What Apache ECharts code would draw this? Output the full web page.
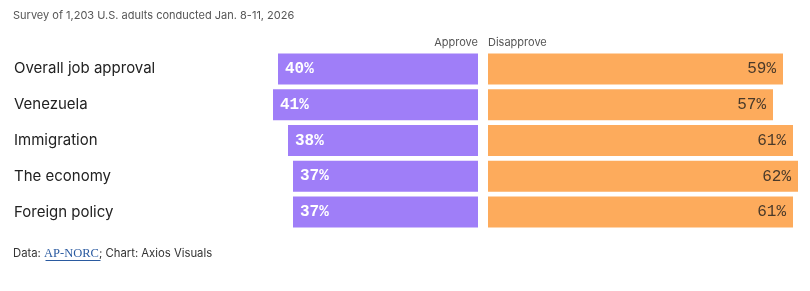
<!DOCTYPE html>
<html><head><meta charset="utf-8">
<script src="https://cdn.jsdelivr.net/npm/echarts@6/dist/echarts.min.js"></script>
<style>html,body{margin:0;padding:0;background:#fff}#c{width:810px;height:291px}</style>
</head><body><div id="c"></div>
<script>
const categories = ["Overall job approval", "Venezuela", "Immigration", "The economy", "Foreign policy"];
const approve = [40, 41, 38, 37, 37];
const disapprove = [59, 57, 61, 62, 61];
const subtitle = "Survey of 1,203 U.S. adults conducted Jan. 8-11, 2026";
const seriesNames = ["Approve", "Disapprove"];

const chart = echarts.init(document.getElementById('c'));
const mono = '"Liberation Mono", "DejaVu Sans Mono", monospace';
const sans = 'Inter, "Noto Sans", sans-serif';
chart.setOption({
  animation: false,
  title: [
    { text: subtitle, left: 13, top: 10, padding: 0, textStyle: { fontFamily: sans, fontSize: 11, fontWeight: 'normal', color: '#555' } },
    { text: seriesNames[0], right: 332, top: 37, padding: 0, textStyle: { fontFamily: sans, fontSize: 11, fontWeight: 'normal', color: '#555' } },
    { text: seriesNames[1], left: 488, top: 37, padding: 0, textStyle: { fontFamily: sans, fontSize: 11, fontWeight: 'normal', color: '#555' } },
    { text: '{a|Data: }{b|AP-NORC}{a|; Chart: Axios Visuals}', left: 13, top: 247, padding: 0,
      textStyle: { fontWeight: 'normal', rich: {
        a: { fontFamily: sans, fontSize: 11.3, fontWeight: 'normal', color: '#333' },
        b: { fontFamily: '"Liberation Serif", "DejaVu Serif", serif', fontSize: 12.5, fontWeight: 'normal', color: '#2a5aa0' }
      } } }
  ],
  graphic: [
    { type: 'line', shape: { x1: 45.5, y1: 260.5, x2: 100.5, y2: 260.5 }, style: { stroke: '#2a5aa0', lineWidth: 1 } }
  ],
  grid: [
    { left: 228, width: 250, top: 51, height: 179 },
    { left: 488, width: 320, top: 51, height: 179 }
  ],
  xAxis: [
    { gridIndex: 0, type: 'value', min: 0, max: 50, inverse: true, show: false },
    { gridIndex: 1, type: 'value', min: 0, max: 64, show: false }
  ],
  yAxis: [
    { gridIndex: 0, type: 'category', data: categories, inverse: true,
      axisLine: { show: false }, axisTick: { show: false },
      axisLabel: { align: 'left', margin: 214, padding: [3, 0, 0, 0], fontFamily: sans, fontSize: 15, color: '#222' } },
    { gridIndex: 1, type: 'category', data: categories, inverse: true, show: false }
  ],
  series: [
    { name: seriesNames[0], type: 'bar', xAxisIndex: 0, yAxisIndex: 0, data: approve, barWidth: 31,
      itemStyle: { color: '#9f7ef8' },
      label: { show: true, position: 'insideLeft', formatter: p => p.value + '%', distance: 7,
        color: '#fff', fontFamily: mono, fontSize: 16, fontWeight: 'bold' } },
    { name: seriesNames[1], type: 'bar', xAxisIndex: 1, yAxisIndex: 1, data: disapprove, barWidth: 31,
      itemStyle: { color: '#fdab5c' },
      label: { show: true, position: 'insideRight', formatter: p => p.value + '%', distance: 7,
        color: '#4a3a2a', fontFamily: mono, fontSize: 16 } }
  ]
});
</script></body></html>
